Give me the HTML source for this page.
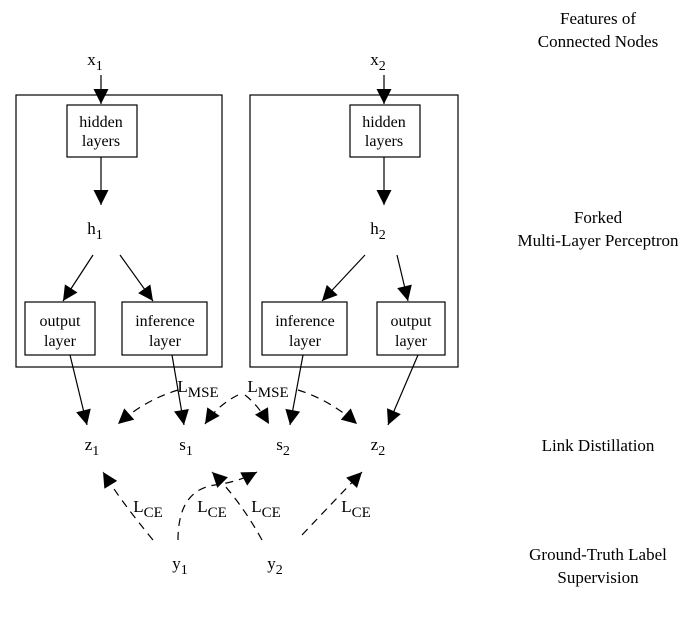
<!DOCTYPE html>
<html><head><style>body{margin:0;background:#fff}</style></head><body>
<svg width="693" height="616" viewBox="0 0 693 616" xmlns="http://www.w3.org/2000/svg" font-family="Liberation Serif, serif" font-size="17" fill="#000">
<defs>
<marker id="b" viewBox="0 0 10 10" refX="10" refY="5" markerWidth="20" markerHeight="15" markerUnits="userSpaceOnUse" orient="auto"><path d="M0,0 L10,5 L0,10 z" fill="#000"/></marker></defs>
<g fill="none" stroke="#000" stroke-width="1.2">
<rect x="16" y="95" width="206" height="272"/><rect x="250" y="95" width="208" height="272"/>
<rect x="67" y="105" width="70" height="52"/><rect x="350" y="105" width="70" height="52"/>
<rect x="25" y="302" width="70" height="53"/><rect x="122" y="302" width="85" height="53"/>
<rect x="262" y="302" width="85" height="53"/><rect x="377" y="302" width="68" height="53"/>
</g>
<g stroke="#000" stroke-width="1.2" marker-end="url(#b)" fill="none">
<line x1="101" y1="75" x2="101" y2="104"/><line x1="384" y1="75" x2="384" y2="104"/>
<line x1="101" y1="157" x2="101" y2="205"/><line x1="384" y1="157" x2="384" y2="205"/>
<line x1="93" y1="255" x2="63" y2="301"/><line x1="120" y1="255" x2="153" y2="301"/>
<line x1="365" y1="255" x2="322" y2="301"/><line x1="397" y1="255" x2="408" y2="301"/>
<line x1="70" y1="355" x2="87" y2="425"/><line x1="172" y1="355" x2="184" y2="425"/>
<line x1="303" y1="355" x2="290" y2="425"/><line x1="418" y1="355" x2="388" y2="425"/>
</g>
<g stroke="#000" stroke-width="1.2" stroke-dasharray="8,6" marker-end="url(#b)" fill="none">
<path d="M178,390 Q145,400 118,424"/><path d="M238,395 Q218,405 205,424"/>
<path d="M245,395 Q258,405 269,424"/><path d="M298,390 Q330,400 357,424"/>
<path d="M153,540 Q120,500 103,472"/><path d="M262,540 Q240,500 212,472"/>
<path d="M178,540 Q178,490 215,485 Q238,482 257,472"/><path d="M302,535 Q335,500 362,472"/>
</g>
<g text-anchor="middle">
<text x="95" y="65">x<tspan font-size="14" dy="5">1</tspan></text>
<text x="378" y="65">x<tspan font-size="14" dy="5">2</tspan></text>
<text x="101" y="127" font-size="16">hidden</text><text x="101" y="146" font-size="16">layers</text>
<text x="384" y="127" font-size="16">hidden</text><text x="384" y="146" font-size="16">layers</text>
<text x="95" y="234">h<tspan font-size="14" dy="5">1</tspan></text>
<text x="378" y="234">h<tspan font-size="14" dy="5">2</tspan></text>
<text x="60" y="326" font-size="16">output</text><text x="60" y="346" font-size="16">layer</text>
<text x="165" y="326" font-size="16">inference</text><text x="165" y="346" font-size="16">layer</text>
<text x="305" y="326" font-size="16">inference</text><text x="305" y="346" font-size="16">layer</text>
<text x="411" y="326" font-size="16">output</text><text x="411" y="346" font-size="16">layer</text>
<text x="92" y="450">z<tspan font-size="14" dy="5">1</tspan></text>
<text x="186" y="450">s<tspan font-size="14" dy="5">1</tspan></text>
<text x="283" y="450">s<tspan font-size="14" dy="5">2</tspan></text>
<text x="378" y="450">z<tspan font-size="14" dy="5">2</tspan></text>
<text x="180" y="569">y<tspan font-size="14" dy="5">1</tspan></text>
<text x="275" y="569">y<tspan font-size="14" dy="5">2</tspan></text>
<text x="198" y="392">L<tspan font-size="15" dy="5">MSE</tspan></text>
<text x="268" y="392">L<tspan font-size="15" dy="5">MSE</tspan></text>
<text x="148" y="512">L<tspan font-size="15" dy="5">CE</tspan></text>
<text x="212" y="512">L<tspan font-size="15" dy="5">CE</tspan></text>
<text x="266" y="512">L<tspan font-size="15" dy="5">CE</tspan></text>
<text x="356" y="512">L<tspan font-size="15" dy="5">CE</tspan></text>
<text x="598" y="24">Features of</text><text x="598" y="47">Connected Nodes</text>
<text x="598" y="223">Forked</text><text x="598" y="246">Multi-Layer Perceptron</text>
<text x="598" y="451">Link Distillation</text>
<text x="598" y="560">Ground-Truth Label</text><text x="598" y="583">Supervision</text>
</g>
</svg>
</body></html>
